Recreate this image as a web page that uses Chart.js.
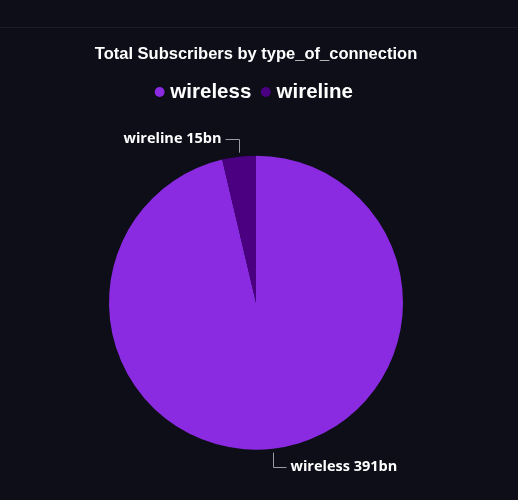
<!DOCTYPE html>
<html>
<head>
<meta charset="utf-8">
<script src="https://cdn.jsdelivr.net/npm/chart.js@4"></script>
<style>
html,body{margin:0;padding:0;background:#0d0e17;}
#wrap{position:relative;width:518px;height:500px;}
#hline{position:absolute;left:0;top:27px;width:518px;height:1px;background:#1c1d27;}
canvas{position:absolute;left:0;top:0;}
</style>
</head>
<body>
<div id="wrap"><div id="hline"></div><canvas id="c" width="518" height="500"></canvas></div>
<script>
const categories = ["wireless", "wireline"];
const subscribers = [391, 15];
const valueLabels = ["391bn", "15bn"];
const colors = ["#8a2be2", "#4b0082"];

const leaderPlugin = {
  id: 'leaders',
  afterDatasetsDraw(chart) {
    const ctx = chart.ctx;
    const meta = chart.getDatasetMeta(0);
    meta.data.forEach((arc, i) => {
      const p = arc.getProps(['x','y','startAngle','endAngle','outerRadius'], true);
      const mid = (p.startAngle + p.endAngle) / 2;
      const r = p.outerRadius;
      const sx = p.x + Math.cos(mid) * (r + 4);
      const sy = p.y + Math.sin(mid) * (r + 4);
      const up = Math.sin(mid) < 0;
      const ey = up ? p.y - (r + 17) : p.y + (r + 17);
      const right = Math.cos(mid) >= 0;
      const ex = right ? sx + 13 : sx - 13;
      ctx.save();
      ctx.strokeStyle = '#9a9ba3';
      ctx.lineWidth = 1;
      ctx.beginPath();
      ctx.moveTo(Math.round(sx) + 0.5, sy);
      ctx.lineTo(Math.round(sx) + 0.5, Math.round(ey) + 0.5);
      ctx.lineTo(ex, Math.round(ey) + 0.5);
      ctx.stroke();
      ctx.fillStyle = '#ffffff';
      ctx.font = 'bold 14.5px "Open Sans", sans-serif';
      ctx.textBaseline = 'middle';
      ctx.textAlign = right ? 'left' : 'right';
      ctx.fillText(categories[i] + ' ' + valueLabels[i], right ? ex + 4 : ex - 4, ey + 0.5);
      ctx.restore();
    });
  }
};

new Chart(document.getElementById('c'), {
  type: 'pie',
  data: {
    labels: categories,
    datasets: [{
      data: subscribers,
      backgroundColor: colors,
      borderWidth: 0,
      radius: 147
    }]
  },
  options: {
    responsive: false,
    animation: false,
    layout: { padding: { left: 0, right: 6, top: 0, bottom: 7 } },
    plugins: {
      tooltip: { enabled: false },
      title: {
        display: true,
        text: 'Total Subscribers by type_of_connection',
        color: '#ffffff',
        font: { family: '"Liberation Sans", Arial, sans-serif', size: 16.5, weight: 'bold' },
        padding: { top: 45, bottom: 3 }
      },
      legend: {
        display: true,
        position: 'top',
        labels: {
          color: '#ffffff',
          usePointStyle: true,
          pointStyle: 'circle',
          boxWidth: 1,
          boxHeight: 7,
          padding: 14,
          font: { family: '"Liberation Sans", Arial, sans-serif', size: 20.5, weight: 'bold' }
        }
      }
    }
  },
  plugins: [leaderPlugin]
});
</script>
</body>
</html>
